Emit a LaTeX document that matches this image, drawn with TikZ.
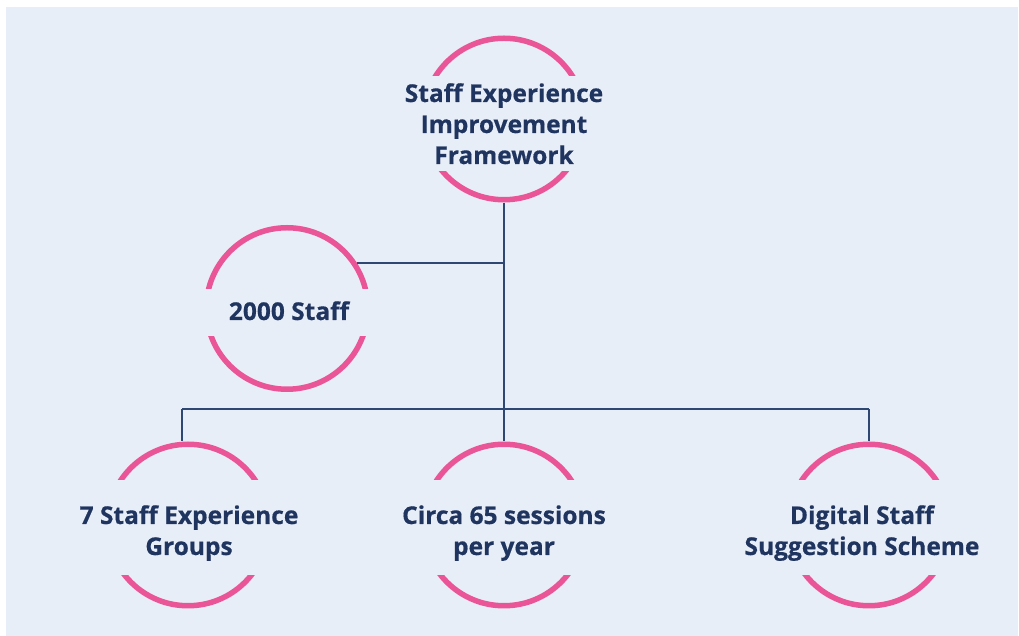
\documentclass[tikz,border=0pt]{standalone}
\usepackage{fontspec}
\setmainfont{Open Sans}
\usetikzlibrary{calc}

\definecolor{bgblue}{RGB}{232,238,248}
\definecolor{ringpink}{RGB}{234,85,151}
\definecolor{inknavy}{RGB}{31,53,95}
\definecolor{linknavy}{RGB}{47,72,115}

\tikzset{
  spot/.style={circle, minimum size=167pt, inner sep=0pt},
  caption/.style={anchor=base, inner sep=0pt, align=center, text=inknavy,
    font=\fontsize{24.5}{31}\selectfont\bfseries\addfontfeature{FakeBold=0.5}},
  ring/.style={draw=ringpink, line width=5.5pt},
  link/.style={draw=linknavy, line width=1.5pt},
}

% a ring cut open by a horizontal band: #1 node, #2 upper cut, #3 lower cut
\newcommand\splitring[3]{%
  \begin{scope}
    \clip ($(#1.center)+(-95,#2)$) rectangle ($(#1.center)+(95,95)$);
    \draw[ring] (#1.center) circle[radius=80.75pt];
  \end{scope}
  \begin{scope}
    \clip ($(#1.center)+(-95,-#3)$) rectangle ($(#1.center)+(95,-95)$);
    \draw[ring] (#1.center) circle[radius=80.75pt];
  \end{scope}}

\begin{document}
\begin{tikzpicture}[x=1pt,y=1pt]
  \useasboundingbox[fill=white] (0,0) rectangle (1019,636);
  \fill[bgblue] (6,0) rectangle (1018,629);

  % circles
  \node[spot] (frame) at (504,517) {};
  \node[spot] (staff) at (287,327.5) {};
  \node[spot] (groups) at (188,111) {};
  \node[spot] (sessions) at (504,111) {};
  \node[spot] (scheme) at (869,111) {};

  \splitring{frame}{43}{53}
  \splitring{staff}{19.5}{28.5}
  \splitring{groups}{45}{51}
  \splitring{sessions}{45}{51}
  \splitring{scheme}{45}{51}

  % texts, placed by the baseline of their last line
  \node[caption] (frame text) at (504,472) {Staff Experience\\Improvement\\Framework};
  \node[caption] (staff text) at (289,316) {2000 Staff};
  \node[caption] (groups text) at (189,81) {7 Staff Experience\\Groups};
  \node[caption] (sessions text) at (504,81) {Circa 65 sessions\\per year};
  \node[caption] (scheme text) at (862,81) {Digital Staff\\Suggestion Scheme};

  % connectors
  \coordinate (bus) at (0,227);
  \coordinate (join) at (frame.south |- staff.33);
  \coordinate (gtop) at ($(groups.north)+(-6,0)$);
  \draw[link] (frame.south) -- (frame.south |- bus);
  \draw[link] (staff.33) -- (join);
  \draw[link] (gtop |- bus) -- (scheme.north |- bus);
  \draw[link] (gtop |- bus) -- (gtop);
  \draw[link] (sessions.north |- bus) -- (sessions.north);
  \draw[link] (scheme.north |- bus) -- (scheme.north);
\end{tikzpicture}
\end{document}
